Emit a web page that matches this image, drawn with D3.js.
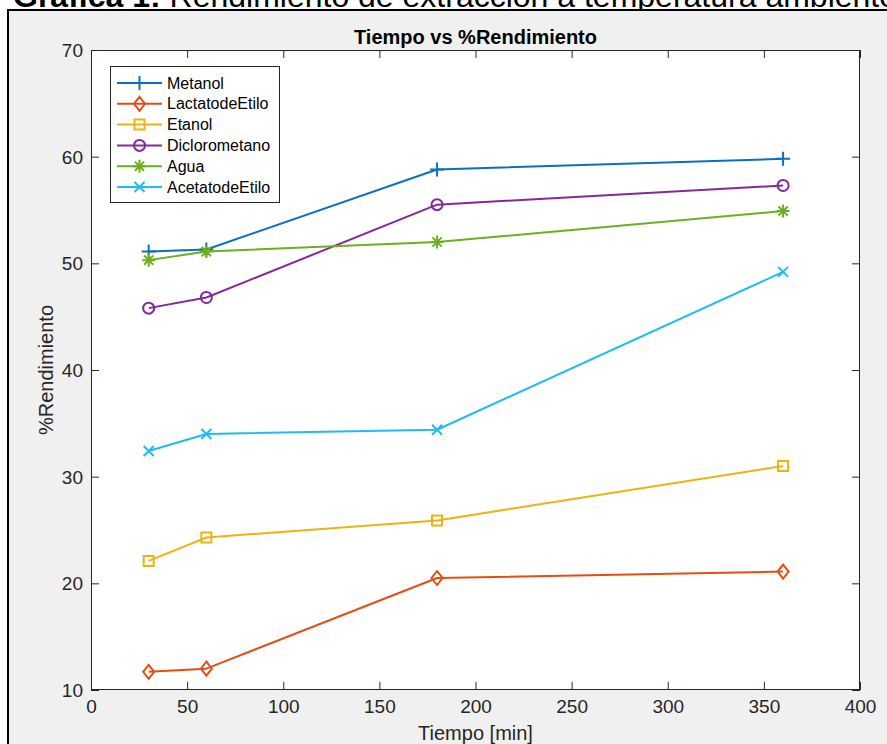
<!DOCTYPE html>
<html>
<head>
<meta charset="utf-8">
<script src="https://cdn.jsdelivr.net/npm/d3@7"></script>
<style>
  html, body { margin: 0; padding: 0; background: #ffffff; }
  svg { display: block; }
  text { font-family: "Liberation Sans", Arial, Helvetica, sans-serif; }
</style>
</head>
<body>
<svg id="chart" width="887" height="744"></svg>
<script>
// Sampling times (minutes)
const tiempos = [30, 60, 180, 360];

// % yield for each solvent at each sampling time
const metanol        = [51.1, 51.3, 58.8, 59.8];
const lactatoDeEtilo = [11.7, 12.0, 20.5, 21.1];
const etanol         = [22.1, 24.3, 25.9, 31.0];
const diclorometano  = [45.8, 46.8, 55.5, 57.3];
const agua           = [50.3, 51.1, 52.0, 54.9];
const acetatoDeEtilo = [32.4, 34.0, 34.4, 49.2];

const seriesNames = ["Metanol", "LactatodeEtilo", "Etanol", "Diclorometano", "Agua", "AcetatodeEtilo"];
const seriesValues = [metanol, lactatoDeEtilo, etanol, diclorometano, agua, acetatoDeEtilo];
const seriesColors = ["#0b6fbf", "#e64d14", "#f0b112", "#83299a", "#6bb01f", "#1fbcee"];
const seriesMarkers = ["plus", "diamond", "square", "circle", "asterisk", "cross"];

const xTicks = [0, 50, 100, 150, 200, 250, 300, 350, 400];
const yTicks = [10, 20, 30, 40, 50, 60, 70];

const captionBold = "Gráfica 1:";
const captionText = " Rendimiento de extracción a temperatura ambiente";
const chartTitle = "Tiempo vs %Rendimiento";
const xLabel = "Tiempo [min]";
const yLabel = "%Rendimiento";

const svg = d3.select("#chart");
const W = 887, H = 744;

// Document frame: caption above, bordered grey figure area
const cap = svg.append("text").attr("x", 13).attr("y", 7)
  .attr("font-size", 32).attr("fill", "#000");
cap.append("tspan").attr("font-weight", "bold").text(captionBold);
cap.append("tspan").text(captionText);

svg.append("rect").attr("x", 9).attr("y", 11).attr("width", W - 9).attr("height", H - 11)
  .attr("fill", "#f0f0f0");
svg.append("line").attr("x1", 7).attr("x2", W).attr("y1", 10).attr("y2", 10)
  .attr("stroke", "#000").attr("stroke-width", 2);
svg.append("line").attr("x1", 8).attr("x2", 8).attr("y1", 9).attr("y2", H)
  .attr("stroke", "#000").attr("stroke-width", 2);

// Plot area
const pLeft = 91, pRight = 860, pTop = 50, pBottom = 690;
const x = d3.scaleLinear().domain([0, 400]).range([pLeft, pRight]);
const y = d3.scaleLinear().domain([10, 70]).range([pBottom, pTop]);

svg.append("rect").attr("x", pLeft).attr("y", pTop)
  .attr("width", pRight - pLeft).attr("height", pBottom - pTop).attr("fill", "#fff");

const axisColor = "#262626";
const tickLen = 8;

// Ticks pointing inward on all four sides, labels on bottom/left
const gx = svg.append("g").attr("transform", `translate(0,${pBottom})`)
  .call(d3.axisBottom(x).tickValues(xTicks).tickSize(-tickLen).tickFormat(d3.format("d")));
const gxTop = svg.append("g").attr("transform", `translate(0,${pTop})`)
  .call(d3.axisTop(x).tickValues(xTicks).tickSize(-tickLen).tickFormat(""));
const gy = svg.append("g").attr("transform", `translate(${pLeft},0)`)
  .call(d3.axisLeft(y).tickValues(yTicks).tickSize(-tickLen).tickFormat(d3.format("d")));
const gyRight = svg.append("g").attr("transform", `translate(${pRight},0)`)
  .call(d3.axisRight(y).tickValues(yTicks).tickSize(-tickLen).tickFormat(""));

[gx, gxTop, gy, gyRight].forEach(g => {
  g.select(".domain").remove();
  g.selectAll(".tick line").attr("stroke", axisColor).attr("stroke-width", 1);
  g.selectAll(".tick text").attr("fill", axisColor).attr("font-size", 19)
    .attr("font-family", "'Liberation Sans', Arial, sans-serif");
});
gx.selectAll(".tick text").attr("y", 10).attr("dy", "0.71em");
gy.selectAll(".tick text").attr("x", -8).attr("dy", "0.35em");

svg.append("rect").attr("x", pLeft + 0.5).attr("y", pTop + 0.5)
  .attr("width", pRight - pLeft - 1).attr("height", pBottom - pTop - 1)
  .attr("fill", "none").attr("stroke", axisColor).attr("stroke-width", 1);

// Marker shapes
function markerPath(kind) {
  switch (kind) {
    case "plus": return "M-7,0H7M0,-7V7";
    case "diamond": return "M0,-7L5.5,0L0,7L-5.5,0Z";
    case "square": return "M-5,-5H5V5H-5Z";
    case "circle": { const p = d3.path(); p.moveTo(5.5, 0); p.arc(0, 0, 5.5, 0, 2 * Math.PI); return p.toString(); }
    case "asterisk": return "M-6.5,0H6.5M0,-6.5V6.5M-4.6,-4.6L4.6,4.6M-4.6,4.6L4.6,-4.6";
    case "cross": return "M-5,-5L5,5M-5,5L5,-5";
  }
}

const line = d3.line().x((d, i) => x(tiempos[i])).y(d => y(d));

seriesValues.forEach((vals, s) => {
  const g = svg.append("g");
  g.append("path").datum(vals).attr("d", line)
    .attr("fill", "none").attr("stroke", seriesColors[s]).attr("stroke-width", 2)
    .attr("stroke-linejoin", "round");
  g.selectAll("path.mk").data(vals).join("path").attr("class", "mk")
    .attr("transform", (d, i) => `translate(${x(tiempos[i])},${y(d)})`)
    .attr("d", markerPath(seriesMarkers[s]))
    .attr("fill", "none").attr("stroke", seriesColors[s]).attr("stroke-width", 2);
});

// Title and axis labels
svg.append("text").attr("x", (pLeft + pRight) / 2).attr("y", 44)
  .attr("text-anchor", "middle").attr("font-weight", "bold").attr("font-size", 20)
  .attr("fill", "#000").text(chartTitle);
svg.append("text").attr("x", (pLeft + pRight) / 2).attr("y", 740)
  .attr("text-anchor", "middle").attr("font-size", 20).attr("fill", axisColor).text(xLabel);
svg.append("text").attr("transform", `translate(53,${(pTop + pBottom) / 2}) rotate(-90)`)
  .attr("text-anchor", "middle").attr("font-size", 20).attr("fill", axisColor).text(yLabel);

// Legend
const lg = svg.append("g");
const lgX = 110, lgY = 66, lgW = 169, lgH = 136, rowH = 20.8, row0 = 83;
lg.append("rect").attr("x", lgX + 0.5).attr("y", lgY + 0.5).attr("width", lgW).attr("height", lgH)
  .attr("fill", "#fff").attr("stroke", axisColor).attr("stroke-width", 1);
seriesNames.forEach((name, s) => {
  const cy = row0 + s * rowH;
  lg.append("line").attr("x1", 117).attr("x2", 162).attr("y1", cy).attr("y2", cy)
    .attr("stroke", seriesColors[s]).attr("stroke-width", 2);
  lg.append("path").attr("transform", `translate(139.5,${cy})`)
    .attr("d", markerPath(seriesMarkers[s])).attr("fill", "none")
    .attr("stroke", seriesColors[s]).attr("stroke-width", 2);
  lg.append("text").attr("x", 167).attr("y", cy).attr("dy", "0.35em")
    .attr("font-size", 16).attr("fill", "#000").text(name);
});
</script>
</body>
</html>
